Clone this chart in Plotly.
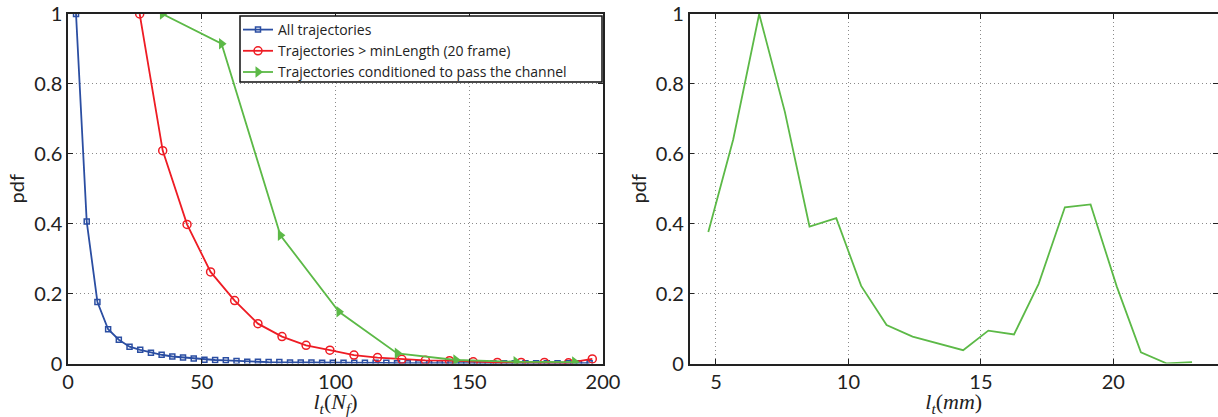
import plotly.graph_objects as go

# ---- data ----
blue_x = [3 + 4 * i for i in range(49)]
blue_y = [1.0, 0.406, 0.176, 0.098, 0.068, 0.048, 0.039, 0.031, 0.025, 0.020,
          0.017, 0.014, 0.011, 0.010, 0.009, 0.007, 0.005, 0.005, 0.004, 0.004,
          0.003, 0.003, 0.003, 0.002, 0.002, 0.002, 0.002, 0.002, 0.002, 0.002,
          0.001, 0.001, 0.001, 0.001, 0.001, 0.001, 0.001, 0.001, 0.001, 0.001,
          0.001, 0.001, 0.001, 0.001, 0.001, 0.001, 0.001, 0.001, 0.001]

red_x = [26.8, 35.4, 44.5, 53.3, 62.3, 71.0, 80.0, 89.0, 97.9, 106.9,
         115.7, 124.8, 133.6, 142.6, 151.5, 160.5, 169.4, 178.1, 187.1, 196.0]
red_y = [1.0, 0.609, 0.398, 0.262, 0.180, 0.114, 0.077, 0.052, 0.038, 0.024,
         0.017, 0.012, 0.009, 0.008, 0.005, 0.003, 0.003, 0.003, 0.002, 0.013]

green_x = [35.3, 57.4, 79.4, 101.3, 123.1, 145.0, 167.5, 189.4]
green_y = [1.0, 0.915, 0.367, 0.148, 0.029, 0.010, 0.005, 0.004]

mm_x = [4.71, 5.65, 6.63, 7.60, 8.53, 9.54, 10.48, 11.44, 12.42, 13.37,
        14.33, 15.28, 16.25, 17.18, 18.17, 19.14, 20.13, 21.04, 22.02, 22.97]
mm_y = [0.376, 0.641, 1.0, 0.72, 0.392, 0.416, 0.222, 0.110, 0.077, 0.058,
        0.038, 0.094, 0.083, 0.228, 0.447, 0.455, 0.220, 0.032, 0.0, 0.004]

legend_names = ["All trajectories",
                "Trajectories > minLength (20 frame)",
                "Trajectories conditioned to pass the channel"]

BLUE = "#2b4ea2"
RED = "#ee1c24"
GREEN = "#5cb947"
FONT = "Lato"
W, H = 1218, 417

fig = go.Figure()
fig.add_trace(go.Scatter(x=blue_x, y=blue_y, mode="lines+markers", name=legend_names[0],
                         line=dict(color=BLUE, width=1.8),
                         marker=dict(symbol="square-open", size=5, color=BLUE, line=dict(width=1.5)),
                         xaxis="x", yaxis="y"))
fig.add_trace(go.Scatter(x=red_x, y=red_y, mode="lines+markers", name=legend_names[1],
                         line=dict(color=RED, width=1.8),
                         marker=dict(symbol="circle-open", size=8, color=RED, line=dict(width=1.5)),
                         xaxis="x", yaxis="y"))
fig.add_trace(go.Scatter(x=green_x, y=green_y, mode="lines+markers", name=legend_names[2],
                         line=dict(color=GREEN, width=1.8),
                         marker=dict(symbol="triangle-right", size=10, color=GREEN),
                         xaxis="x", yaxis="y"))
fig.add_trace(go.Scatter(x=mm_x, y=mm_y, mode="lines", showlegend=False,
                         line=dict(color=GREEN, width=1.8),
                         xaxis="x2", yaxis="y2"))

axis_common = dict(showline=True, linecolor="#222", linewidth=1.5, mirror="ticks",
                   ticks="inside", ticklen=5, tickcolor="#222", automargin=False,
                   showgrid=True, gridcolor="#8a8a8a", griddash="1px,3px", gridwidth=1,
                   zeroline=False, tickfont=dict(family=FONT, size=20, color="#222"))

ytick = [0, 0.2, 0.4, 0.6, 0.8, 1]
ytext = ["0", "0.2", "0.4", "0.6", "0.8", "1"]

fig.update_layout(
    width=W, height=H,
    margin=dict(l=0, r=0, t=0, b=0),
    paper_bgcolor="white", plot_bgcolor="white",
    font=dict(family=FONT, color="#222"),
    xaxis=dict(domain=[68 / W, 603 / W], range=[0, 200],
               tickvals=[0, 50, 100, 150, 200], anchor="y",
               title=dict(text="<i>l</i><sub><i>t</i></sub>(<i>N</i><sub><i>f</i></sub>)",
                          font=dict(family="Liberation Serif", size=22), standoff=3),
               **axis_common),
    yaxis=dict(domain=[1 - 363.5 / H, 1 - 14 / H], range=[0, 1],
               tickvals=ytick, ticktext=ytext, anchor="x",
               title=dict(text="pdf", font=dict(family=FONT, size=20), standoff=4),
               **axis_common),
    xaxis2=dict(domain=[689.5 / W, 1.0], range=[4, 23.95],
                tickvals=[5, 10, 15, 20], anchor="y2",
                title=dict(text="<i>l</i><sub><i>t</i></sub>(<i>mm</i>)",
                           font=dict(family="Liberation Serif", size=22), standoff=3),
                **axis_common),
    yaxis2=dict(domain=[1 - 363.5 / H, 1 - 14 / H], range=[0, 1],
                tickvals=ytick, ticktext=ytext, anchor="x2",
                title=dict(text="pdf", font=dict(family=FONT, size=20), standoff=4),
                **axis_common),
    legend=dict(x=238 / W, y=1 - 14 / H, xanchor="left", yanchor="top",
                bgcolor="rgba(0,0,0,0)", borderwidth=0,
                font=dict(family="Open Sans", size=14, color="#222"),
                tracegroupgap=0, itemwidth=30),
    shapes=[dict(type="rect", xref="paper", yref="paper",
                 x0=240 / W, x1=602 / W, y0=1 - 82 / H, y1=1 - 16 / H,
                 fillcolor="white", line=dict(color="#111", width=1.5), layer="above")],
)

fig.write_html("out.html")
